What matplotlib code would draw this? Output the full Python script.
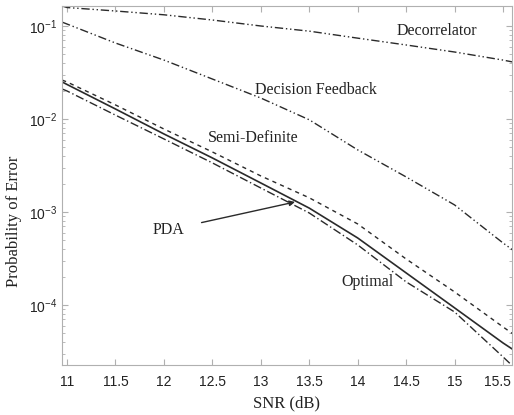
import numpy as np
import matplotlib
matplotlib.use('Agg')
import matplotlib.pyplot as plt
import matplotlib.transforms as mtransforms

# SNR grid (dB), including the points at the axis edges
snr = [10.95, 11.0, 11.5, 12.0, 12.5, 13.0, 13.5, 14.0, 14.5, 15.0, 15.5, 15.6]

# Probability of error per detector
pe_decorrelator = [0.164, 0.158, 0.145, 0.132, 0.116, 0.100, 0.088, 0.074, 0.0625, 0.0525, 0.043, 0.041]
pe_decision_fb = [0.110, 0.105, 0.0656, 0.043, 0.0269, 0.0168, 0.0098, 0.00465, 0.00238, 0.00119, 0.000464, 0.00039]
pe_semidefinite = [0.0262, 0.0250, 0.01416, 0.0078, 0.00442, 0.00244, 0.00142, 0.000743, 0.000312, 0.000138, 5.8e-5, 4.9e-5]
pe_pda = [0.025, 0.0235, 0.0128, 0.0069, 0.00381, 0.00205, 0.00110, 0.000525, 0.000221, 9.3e-5, 3.9e-5, 3.33e-5]
pe_optimal = [0.0210, 0.0200, 0.0110, 0.0061, 0.00337, 0.00181, 0.000975, 0.000442, 0.000177, 8.4e-5, 2.76e-5, 2.2e-5]

x_ticks = [11, 11.5, 12, 12.5, 13, 13.5, 14, 14.5, 15, 15.5]
x_tick_labels = ['11', '11.5', '12', '12.5', '13', '13.5', '14', '14.5', '15', '15.5']

line_color = '#2a2a2a'
serif = ['Liberation Serif', 'DejaVu Serif']
sans = ['Liberation Sans', 'DejaVu Sans']

fig = plt.figure(figsize=(5.14, 4.15), dpi=100)
ax = fig.add_axes([0.1206, 0.1205, 0.8754, 0.865])

ax.semilogy(snr, pe_decorrelator, color=line_color, lw=1.0, dashes=(6, 2, 1, 2, 1, 2))
ax.semilogy(snr, pe_decision_fb, color=line_color, lw=1.0, dashes=(6, 2, 1, 2, 1, 2))
ax.semilogy(snr, pe_semidefinite, color=line_color, lw=1.0, dashes=(3, 3))
ax.semilogy(snr, pe_pda, color=line_color, lw=1.2, ls='-')
ax.semilogy(snr, pe_optimal, color=line_color, lw=1.0, dashes=(6, 2, 1, 2))

ax.set_xlim(10.948, 15.592)
ax.set_ylim(2.26e-5, 0.164)
ax.set_xticks(x_ticks)
ax.set_xticklabels(x_tick_labels)

for spine in ax.spines.values():
    spine.set_color('#b0b0b0')
    spine.set_linewidth(0.8)
ax.tick_params(which='both', direction='in', top=True, right=True, colors='#b0b0b0',
               labelcolor='#222222', labelsize=10)
ax.tick_params(which='major', length=4)
ax.tick_params(which='minor', length=2)
ax.tick_params(axis='x', pad=7)
for lbl in ax.get_xticklabels() + ax.get_yticklabels():
    lbl.set_family(sans)

# last tick label sits right at the figure edge, nudge it in a little
last = ax.get_xticklabels()[-1]
last.set_transform(last.get_transform() + mtransforms.ScaledTranslation(-4 / 72, 0, fig.dpi_scale_trans))

ax.set_xlabel('SNR (dB)', family=serif, fontsize=12, color='#222222', labelpad=5)
ax.set_ylabel('Probability of Error', family=serif, fontsize=12, color='#222222')
ax.yaxis.set_label_coords(-0.088, 0.40)

text_kw = dict(family=serif, fontsize=11.5, color='#222222', ha='center', va='center')
ax.text(14.818, 0.0883, 'Decorrelator', **text_kw)
ax.text(13.57, 0.0205, 'Decision Feedback', **text_kw)
ax.text(12.919, 0.00625, 'Semi-Definite', **text_kw)
ax.text(14.106, 0.000177, 'Optimal', **text_kw)
ax.annotate('PDA', xy=(13.353, 0.00128), xytext=(12.042, 0.00064),
            arrowprops=dict(arrowstyle='-|>', color=line_color, lw=1.0, mutation_scale=8,
                            shrinkA=11, shrinkB=0),
            **text_kw)

fig.savefig('out.png', dpi=100)
